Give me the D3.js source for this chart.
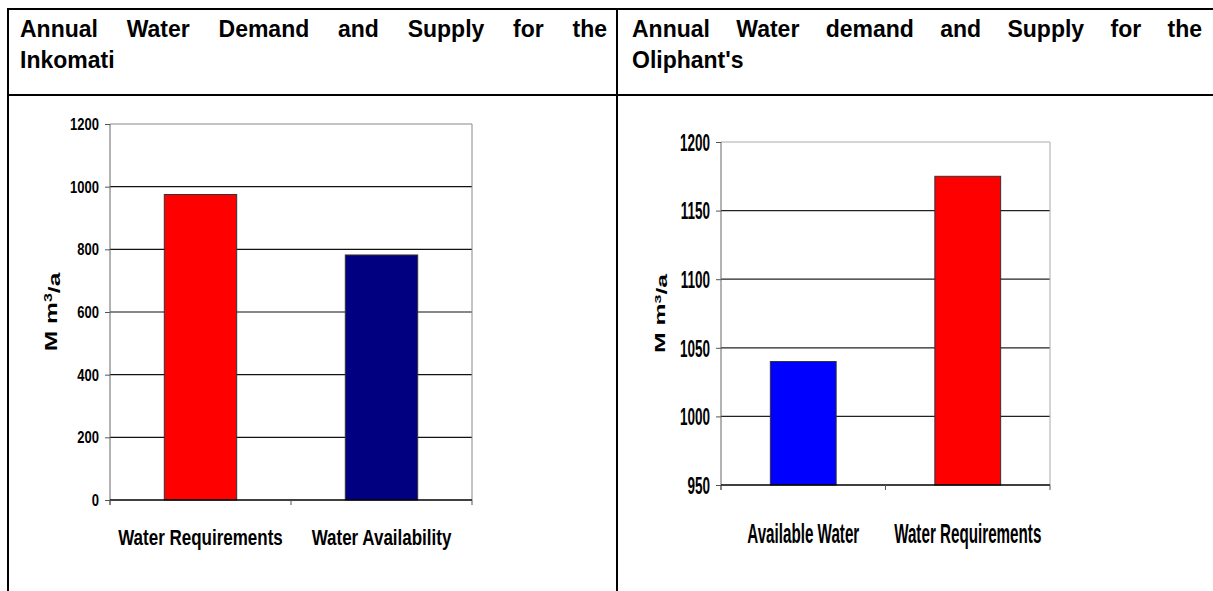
<!DOCTYPE html>
<html lang="en">
<head>
<meta charset="utf-8">
<title>Annual Water Demand and Supply</title>
<script src="https://cdn.jsdelivr.net/npm/d3@7"></script>
<style>
  body { margin: 0; background: #fff; }
  text { font-family: "Liberation Sans", Arial, sans-serif; font-weight: bold; fill: #000; }
</style>
</head>
<body>
<script>
// data
var leftTitle = ["Annual Water Demand and Supply for the", "Inkomati"];
var leftCategories = ["Water Requirements", "Water Availability"];
var leftValues = [975, 782];
var leftColors = ["#ff0000", "#000080"];
var leftTicks = [0, 200, 400, 600, 800, 1000, 1200];

var rightTitle = ["Annual Water demand and Supply for the", "Oliphant's"];
var rightCategories = ["Available Water", "Water Requirements"];
var rightValues = [1040, 1175];
var rightColors = ["#0000ff", "#ff0000"];
var rightTicks = [950, 1000, 1050, 1100, 1150, 1200];

var W = 1213, H = 591;
var svg = d3.select("body").append("svg")
    .attr("width", W)
    .attr("height", H);

// table frame
var frame = svg.append("g").attr("stroke", "#000").attr("stroke-width", 2);
frame.append("line").attr("x1", 8).attr("x2", W).attr("y1", 9).attr("y2", 9);
frame.append("line").attr("x1", 8).attr("x2", W).attr("y1", 95).attr("y2", 95);
frame.append("line").attr("x1", 8).attr("x2", 8).attr("y1", 8).attr("y2", H);
frame.append("line").attr("x1", 617).attr("x2", 617).attr("y1", 9).attr("y2", H);

// justified first title line, plain second line
function title(lines, x0, x1) {
    var g = svg.append("g").style("font-size", "23px");
    var words = lines[0].split(" ");
    var t = g.selectAll("text.w").data(words).enter().append("text")
        .attr("class", "w").attr("y", 37).text(function (d) { return d; });
    var widths = [];
    t.each(function () { widths.push(this.getComputedTextLength()); });
    var gap = (x1 - x0 - d3.sum(widths)) / (words.length - 1);
    var pos = x0;
    t.attr("x", function (d, i) {
        var p = pos;
        pos += widths[i] + gap;
        return p;
    });
    g.append("text").attr("x", x0).attr("y", 68).text(lines[1]);
}
title(leftTitle, 20, 607);
title(rightTitle, 632, 1202);

// one bar chart inside a cell
function barChart(o) {
    var x = d3.scaleBand().domain(o.categories)
        .range([o.x0, o.x1]).paddingInner(0.6).paddingOuter(0.3);
    var y = d3.scaleLinear().domain(o.domain).range([o.y1, o.y0]);
    var g = svg.append("g");

    // grid
    g.selectAll("line.grid").data(o.ticks.slice(1, -1)).enter().append("line")
        .attr("x1", o.x0).attr("x2", o.x1)
        .attr("y1", function (d) { return y(d); })
        .attr("y2", function (d) { return y(d); })
        .attr("stroke", o.gridColor).attr("stroke-width", 1.2);
    // plot frame top + right
    g.append("path")
        .attr("d", "M" + o.x0 + "," + y(o.domain[1]) + "H" + o.x1 + "V" + y(o.domain[0]))
        .attr("fill", "none").attr("stroke", o.frameColor);

    // bars
    g.selectAll("rect").data(o.values).enter().append("rect")
        .attr("x", function (d, i) { return x(o.categories[i]); })
        .attr("width", x.bandwidth())
        .attr("y", function (d) { return y(d); })
        .attr("height", function (d) { return y(o.domain[0]) - y(d); })
        .attr("fill", function (d, i) { return o.colors[i]; })
        .attr("stroke", "#333").attr("stroke-width", 1);

    // y axis
    var ya = g.append("g").attr("transform", "translate(" + o.x0 + ",0)")
        .call(d3.axisLeft(y).tickValues(o.ticks).tickFormat(d3.format("d")).tickSize(5).tickPadding(6));
    ya.select(".domain").attr("stroke", "#666").attr("d", "M0," + y(o.domain[1]) + "V" + (y(o.domain[0]) + 5));
    ya.selectAll(".tick line").attr("stroke", "#555");
    ya.selectAll(".tick text")
        .attr("x", null)
        .style("font-size", o.tickFont + "px")
        .attr("dy", "0.35em")
        .attr("transform", "translate(-11,0) scale(1," + o.tickStretch + ")");

    // x axis line with category ticks
    var edges = o.categories.map(function (c) { return x(c) - x.step() * x.paddingInner() / 2; }).concat([o.x1]);
    edges[0] = o.x0;
    g.append("line").attr("x1", o.x0).attr("x2", o.x1)
        .attr("y1", y(o.domain[0])).attr("y2", y(o.domain[0]))
        .attr("stroke", "#000").attr("stroke-width", 1.5);
    g.selectAll("line.xt").data(edges).enter().append("line")
        .attr("x1", function (d) { return d; }).attr("x2", function (d) { return d; })
        .attr("y1", y(o.domain[0])).attr("y2", y(o.domain[0]) + 5)
        .attr("stroke", "#555");

    // category labels
    g.selectAll("text.cat").data(o.categories).enter().append("text")
        .attr("text-anchor", "middle").attr("dy", "0.35em")
        .style("font-size", o.catFont + "px")
        .attr("transform", function (d) {
            return "translate(" + (x(d) + x.bandwidth() / 2) + "," + o.catY + ") scale(1," + o.catStretch + ")";
        })
        .text(function (d) { return d; });

    // y label
    var yl = g.append("text").attr("text-anchor", "middle")
        .style("font-size", o.labelFont + "px")
        .attr("transform", "translate(" + o.labelX + "," + ((o.y0 + o.y1) / 2) + ") scale(1," + o.labelStretch + ") rotate(-90)");
    yl.append("tspan").text("M m");
    yl.append("tspan").attr("dy", "-0.45em").style("font-size", "0.65em").text("3");
    yl.append("tspan").attr("dy", "0.45em").text("/a");
}

barChart({
    categories: leftCategories, values: leftValues, colors: leftColors,
    ticks: leftTicks, domain: [0, 1200],
    x0: 110, x1: 472, y0: 124, y1: 500,
    gridColor: "#111", frameColor: "#888",
    tickFont: 13, tickStretch: 1.22,
    catFont: 17, catStretch: 1.3, catY: 537,
    labelFont: 17, labelStretch: 1.45, labelX: 57
});

barChart({
    categories: rightCategories, values: rightValues, colors: rightColors,
    ticks: rightTicks, domain: [950, 1200],
    x0: 721, x1: 1050, y0: 142, y1: 485,
    gridColor: "#222", frameColor: "#aaa",
    tickFont: 13.5, tickStretch: 1.75,
    catFont: 15.2, catStretch: 1.8, catY: 533,
    labelFont: 15, labelStretch: 1.65, labelX: 665
});
</script>
</body>
</html>
